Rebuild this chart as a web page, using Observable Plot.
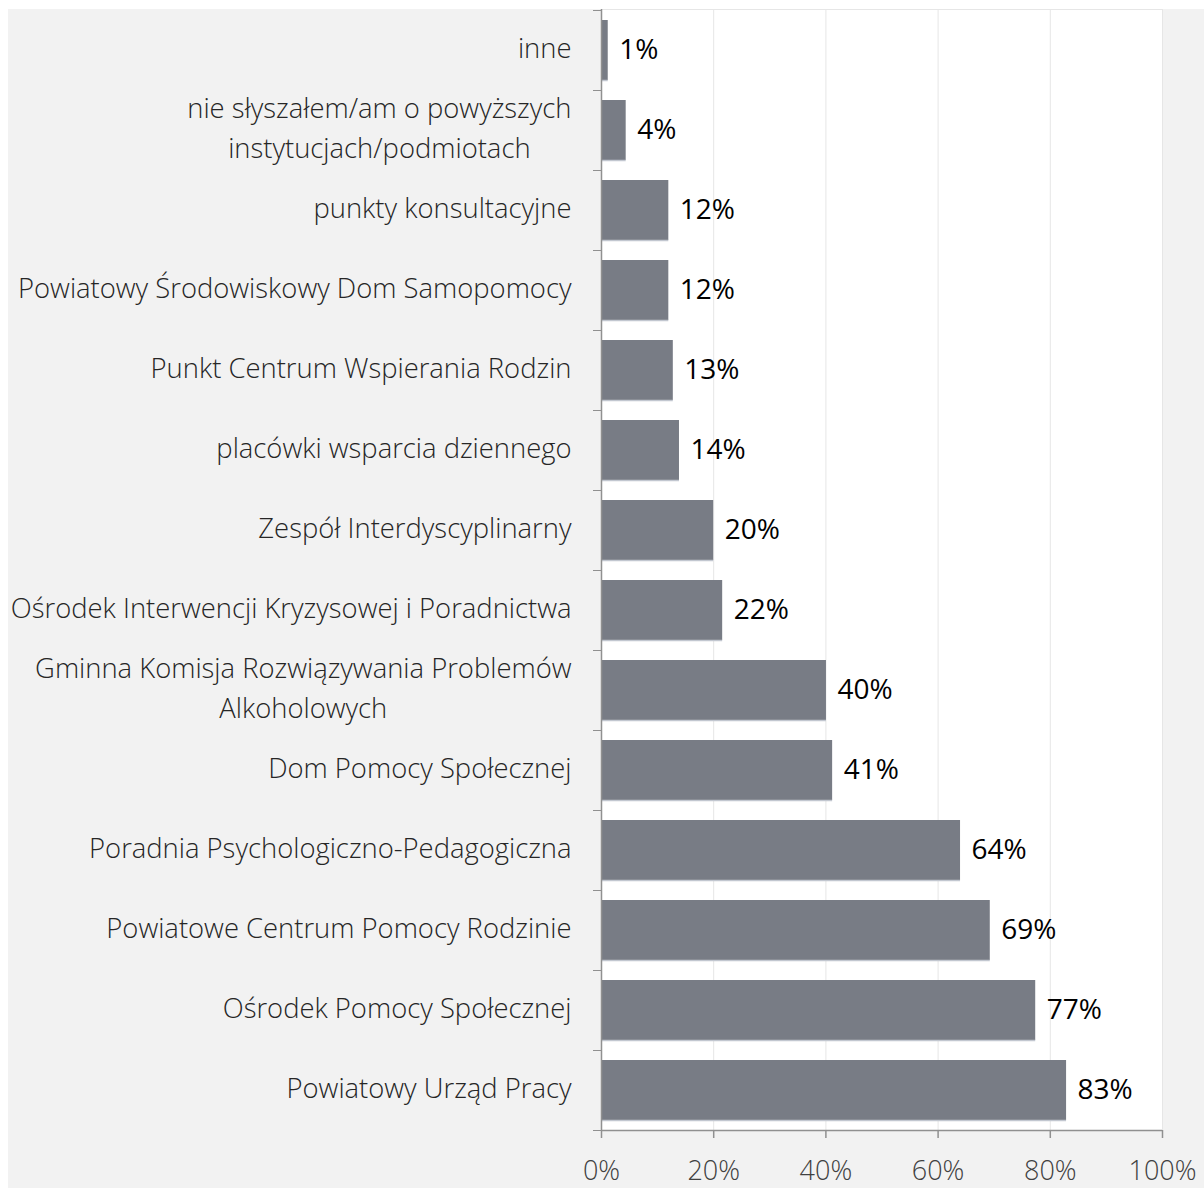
<!DOCTYPE html>
<html>
<head>
<meta charset="utf-8">
<script src="https://cdn.jsdelivr.net/npm/d3@7"></script>
<script src="https://cdn.jsdelivr.net/npm/@observablehq/plot@0.6"></script>
<style>
  html, body { margin: 0; padding: 0; background: #ffffff; }
  #wrap { padding-left: 8px; padding-top: 9px; width: 1196px; }
  #wrap svg { background: #f2f2f2; display: block; }
</style>
</head>
<body>
<div id="wrap"></div>
<script>
const categories = [
  "inne",
  "nie słyszałem/am o powyższych\ninstytucjach/podmiotach",
  "punkty konsultacyjne",
  "Powiatowy Środowiskowy Dom Samopomocy",
  "Punkt Centrum Wspierania Rodzin",
  "placówki wsparcia dziennego",
  "Zespół Interdyscyplinarny",
  "Ośrodek Interwencji Kryzysowej i Poradnictwa",
  "Gminna Komisja Rozwiązywania Problemów\nAlkoholowych",
  "Dom Pomocy Społecznej",
  "Poradnia Psychologiczno-Pedagogiczna",
  "Powiatowe Centrum Pomocy Rodzinie",
  "Ośrodek Pomocy Społecznej",
  "Powiatowy Urząd Pracy"
];
const values = [1.2, 4.4, 12.0, 12.0, 12.8, 13.9, 20.0, 21.6, 40.1, 41.2, 64.0, 69.3, 77.4, 82.9];
const xTicks = [0, 20, 40, 60, 80, 100];

const data = categories.map((c, i) => ({category: c, value: values[i]}));
const FONT = "'Segoe UI', 'Open Sans', 'Noto Sans', sans-serif";
const last = categories[categories.length - 1];

const chart = Plot.plot({
  width: 1196,
  height: 1179,
  marginLeft: 593,
  marginRight: 42,
  marginTop: 0,
  marginBottom: 58,
  style: {fontFamily: FONT, fontSize: "27px", fontWeight: 300, background: "#f2f2f2", overflow: "visible"},
  x: {domain: [0, 100], label: null},
  y: {domain: categories, paddingInner: 0.25, paddingOuter: 0.125, label: null},
  marks: [
    Plot.frame({fill: "white", stroke: null}),
    Plot.gridX(xTicks, {stroke: "#e6e6e6", strokeOpacity: 1, strokeWidth: 1}),
    Plot.frame({anchor: "top", stroke: "#e6e6e6"}),
    Plot.barX(data, {y: "category", x: "value", fill: "#787c85"}),
    Plot.ruleY(data, {y: "category", x1: 0, x2: "value", dy: 30, stroke: "#c2c7d0", strokeWidth: 1.5}),
    Plot.text(data, {
      y: "category", x: "value",
      text: d => Math.round(d.value) + "%",
      textAnchor: "start", dx: 11, dy: 0,
      fill: "#000000", fontSize: 28, fontWeight: 400
    }),
    // category labels
    Plot.axisY({tickSize: 0, tickPadding: 30, dy: -5, fill: "#262626", fontSize: 27.4, lineHeight: 1.46, textOverflow: null, lineWidth: 60, label: null}),
    // tick marks at band boundaries
    Plot.axisY({text: null, tickSize: 8, dy: -40, stroke: "#909090", label: null}),
    Plot.axisY([last], {text: null, tickSize: 8, dy: 40, stroke: "#909090", label: null}),
    Plot.ruleX([0], {stroke: "#909090", strokeWidth: 1.5}),
    Plot.axisX(xTicks, {tickSize: 8, tickPadding: 22, tickFormat: d => d + "%", fill: "#404040", fontSize: 27, stroke: "#909090", strokeWidth: 1.5, label: null}),
    Plot.ruleY([last], {dy: 40, stroke: "#909090", strokeWidth: 1.5})
  ]
});

document.getElementById("wrap").appendChild(chart);

// center multi-line category labels relative to each other (block right-aligned)
function centerLines(t) {
  const spans = t.querySelectorAll("tspan");
  if (spans.length > 1) {
    let w = 0;
    spans.forEach(s => { w = Math.max(w, s.getComputedTextLength()); });
    const x0 = +(spans[0].getAttribute("x") || 0);
    t.setAttribute("text-anchor", "middle");
    spans.forEach(s => s.setAttribute("x", x0 - w / 2));
  }
}
chart.querySelectorAll("g[text-anchor='end'] text, text[text-anchor='end']").forEach(centerLines);
</script>
</body>
</html>
